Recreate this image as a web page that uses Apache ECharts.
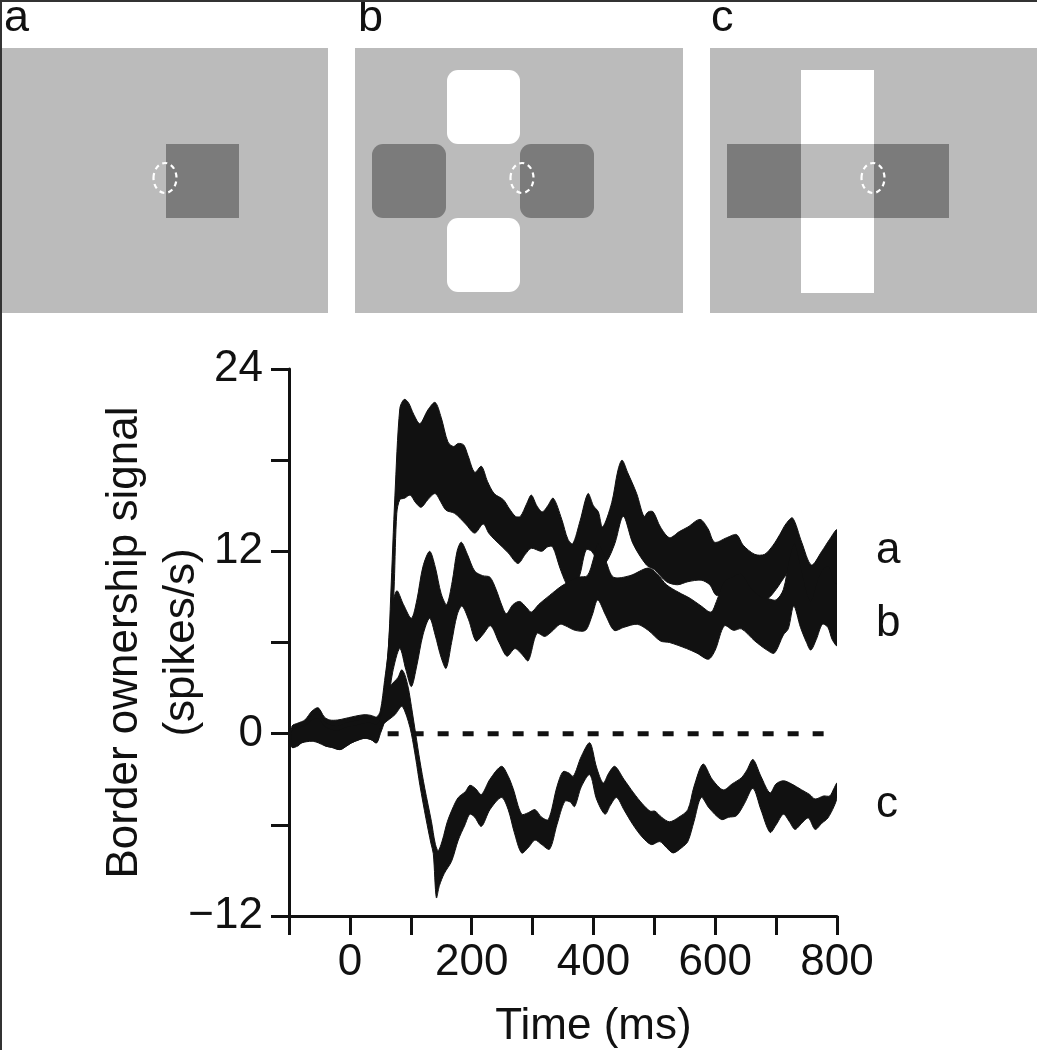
<!DOCTYPE html>
<html>
<head>
<meta charset="utf-8">
<script src="https://cdn.jsdelivr.net/npm/echarts@6/dist/echarts.min.js"></script>
<style>
html,body{margin:0;padding:0;background:#fff;}
#chart{width:1037px;height:1050px;}
</style>
</head>
<body>
<div id="chart"></div>
<script>
// ---- Data (time in ms, border ownership signal in spikes/s) ----
// Each band = upper and lower edge of the shaded mean ± SEM trace.
var aHi = [[-95,0.5],[-85,0.7],[-74,0.9],[-62,1.5],[-52,1.7],[-42,1.1],[-33,0.9],[-20,0.9],[-8,1.0],[3,1.1],[15,1.2],[25,1.25],[35,1.2],[44,1.1],[50,1.5],[57,3.5],[63,5.5],[67,9.0],[74,15.7],[82,21.4],[89,22.0],[96,21.8],[105,21.0],[115,20.4],[128,21.3],[140,21.8],[150,20.8],[161,19.2],[170,18.9],[178,19.1],[187,19.0],[194,18.3],[205,17.2],[216,17.6],[226,16.6],[237,15.8],[252,15.4],[262,14.8],[272,14.3],[280,14.3],[290,15.1],[298,15.7],[307,15.0],[316,14.6],[325,15.0],[334,15.5],[348,14.1],[358,12.8],[366,12.5],[378,14.0],[391,15.8],[400,15.0],[408,14.6],[415,13.6],[430,15.2],[440,17.3],[447,18.0],[456,17.2],[471,15.8],[483,14.3],[490,14.6],[498,14.6],[510,13.6],[525,12.9],[541,13.3],[555,13.6],[575,14.1],[588,13.5],[599,12.6],[619,12.9],[635,13.1],[646,12.4],[665,11.8],[681,11.8],[695,12.4],[706,13.1],[716,13.8],[727,14.2],[742,12.6],[758,11.1],[775,12.0],[788,12.8],[800,13.4]];
var aLo = [[-95,-0.4],[-85,-0.2],[-74,0.1],[-62,0.5],[-52,0.4],[-42,-0.2],[-30,-0.4],[-16,-0.6],[-5,-0.3],[3,-0.2],[15,0.1],[25,0.2],[35,0.0],[44,-0.2],[50,0.2],[57,1.0],[63,2.5],[68,5.0],[73,10.0],[77,14.5],[82,15.4],[90,15.5],[99,15.7],[108,15.2],[117,14.9],[128,15.4],[140,15.8],[150,15.2],[158,14.7],[172,14.5],[190,13.8],[205,13.2],[219,13.8],[228,13.2],[237,12.8],[250,12.3],[260,11.9],[276,11.2],[288,11.8],[298,12.2],[315,12.0],[325,12.3],[333,12.3],[345,10.9],[355,9.9],[366,9.2],[378,10.5],[388,12.1],[397,12.0],[410,11.2],[421,11.3],[435,12.5],[449,14.3],[465,12.5],[487,11.1],[500,10.8],[520,10.0],[538,9.8],[555,10.0],[577,10.1],[591,9.8],[602,9.1],[620,9.3],[640,9.5],[660,8.8],[686,8.9],[700,9.5],[712,10.2],[725,10.8],[742,9.5],[758,8.2],[775,8.8],[790,9.5],[800,9.8]];
var bHi = [[-95,0.3],[-85,0.5],[-74,0.6],[-62,1.2],[-52,1.3],[-42,0.8],[-33,0.6],[-20,0.5],[-8,0.7],[3,0.8],[15,0.9],[25,1.0],[35,1.0],[44,0.9],[50,1.3],[56,2.5],[62,5.0],[68,8.0],[77,9.4],[88,8.5],[101,7.6],[110,8.8],[120,11.0],[131,12.0],[140,11.0],[150,9.2],[159,8.5],[168,10.0],[176,12.0],[183,12.6],[193,11.8],[205,10.7],[218,10.4],[230,10.3],[240,9.5],[250,8.4],[257,7.9],[268,8.5],[279,8.7],[290,8.3],[298,8.0],[310,8.5],[328,9.1],[347,9.7],[360,10.0],[375,10.3],[390,10.4],[400,11.5],[407,12.5],[415,12.0],[421,11.3],[433,10.3],[460,10.4],[490,10.9],[505,10.5],[520,9.8],[540,9.3],[559,8.9],[577,8.4],[593,8.0],[602,8.7],[615,10.0],[628,10.3],[643,10.5],[660,9.5],[675,9.0],[686,8.9],[700,8.8],[712,9.5],[722,11.5],[730,12.5],[740,11.0],[750,9.3],[757,8.7],[768,10.0],[777,10.8],[786,11.0],[795,10.0],[800,9.8]];
var bLo = [[-95,-0.9],[-85,-0.7],[-79,-0.6],[-62,-0.3],[-52,-0.4],[-41,-0.8],[-30,-0.9],[-16,-1.05],[-5,-0.8],[3,-0.6],[15,-0.4],[25,-0.3],[35,-0.4],[44,-0.6],[50,0.0],[57,0.8],[63,2.0],[70,4.0],[82,5.6],[92,4.2],[101,3.1],[110,4.5],[120,6.5],[131,7.6],[140,6.5],[150,5.0],[158,4.3],[167,6.0],[176,7.8],[184,8.4],[195,7.5],[207,6.1],[218,6.5],[231,7.1],[245,6.0],[258,5.1],[271,5.6],[283,5.2],[293,4.8],[307,6.6],[320,6.4],[331,6.7],[345,7.2],[354,7.1],[370,6.8],[387,6.8],[398,7.8],[407,8.8],[420,7.8],[434,6.8],[450,7.0],[472,7.2],[490,6.8],[510,6.1],[525,6.0],[553,5.6],[570,5.3],[589,4.9],[600,5.5],[615,7.1],[630,6.8],[643,6.9],[665,6.1],[685,5.5],[697,5.3],[712,6.5],[720,6.9],[729,8.4],[740,7.0],[750,6.0],[757,5.5],[766,6.2],[776,7.2],[785,7.0],[792,6.2],[800,5.8]];
var cHi = [[-95,0.2],[-85,0.4],[-74,0.5],[-62,0.9],[-52,1.0],[-42,0.5],[-33,0.3],[-20,0.2],[-8,0.4],[3,0.5],[15,0.6],[25,0.7],[35,0.7],[44,0.6],[50,1.0],[57,2.3],[68,3.2],[79,3.7],[85,4.2],[90,3.9],[96,3.0],[101,1.8],[108,0.0],[115,-1.8],[123,-3.6],[134,-5.8],[140,-7.2],[145,-7.7],[152,-7.0],[160,-5.8],[170,-4.8],[178,-4.2],[190,-3.8],[197,-3.4],[206,-3.6],[216,-4.0],[230,-3.0],[249,-2.15],[260,-2.8],[268,-3.6],[282,-5.3],[293,-5.2],[304,-5.0],[315,-5.5],[326,-5.65],[340,-3.5],[350,-2.5],[360,-2.6],[367,-2.8],[380,-1.5],[394,-0.6],[405,-2.2],[416,-3.25],[425,-2.6],[435,-2.15],[450,-3.0],[466,-3.9],[480,-4.6],[493,-5.1],[501,-5.1],[512,-5.5],[525,-5.8],[540,-5.5],[555,-5.0],[565,-3.5],[580,-2.0],[595,-3.0],[613,-3.7],[628,-3.3],[643,-2.9],[652,-2.4],[662,-1.7],[675,-2.8],[690,-3.9],[700,-3.3],[712,-3.1],[725,-3.3],[742,-3.7],[755,-4.0],[764,-4.3],[778,-4.1],[788,-4.1],[795,-3.6],[800,-3.25]];
var cLo = [[-95,-0.9],[-85,-0.8],[-79,-0.6],[-62,-0.5],[-52,-0.6],[-41,-0.8],[-30,-0.9],[-16,-1.05],[-5,-0.8],[3,-0.6],[15,-0.4],[25,-0.3],[35,-0.4],[44,-0.6],[49,0.3],[57,0.7],[74,1.25],[85,1.8],[90,1.5],[96,0.8],[101,0.0],[108,-1.6],[115,-3.4],[125,-5.6],[133,-7.2],[137,-7.9],[142,-10.8],[147,-10.0],[155,-9.2],[167,-8.4],[178,-7.0],[189,-6.0],[197,-5.3],[205,-5.5],[216,-6.1],[230,-5.0],[249,-4.2],[260,-5.0],[270,-6.5],[282,-7.85],[293,-7.5],[304,-7.0],[315,-7.3],[328,-7.6],[340,-6.0],[353,-4.45],[362,-4.5],[369,-4.8],[380,-3.5],[394,-2.7],[405,-4.3],[419,-5.3],[428,-4.7],[438,-4.2],[450,-5.0],[465,-6.0],[480,-6.8],[495,-7.3],[509,-7.1],[520,-7.5],[531,-7.85],[545,-7.5],[555,-7.1],[565,-5.8],[577,-4.2],[590,-4.9],[610,-5.65],[622,-5.5],[635,-5.4],[648,-4.6],[662,-3.6],[675,-5.0],[690,-6.5],[700,-6.0],[712,-5.3],[722,-5.8],[731,-6.3],[742,-5.9],[753,-5.55],[764,-6.3],[775,-5.9],[785,-5.55],[795,-4.8],[800,-4.2]];

var bandNames = ['a', 'b', 'c'];
var bandLabelValues = [12.0, 7.2, -4.7];   // where the a/b/c tags sit at the right end
var zeroLine = [[62, 0], [800, 0]];
var xTickLabels = [0, 200, 400, 600, 800];
var yTickLabels = [-12, 0, 12, 24];

// ---- Chart ----
var FONT = "'Liberation Sans', Arial, Helvetica, sans-serif";
var INK = '#111';
var chart = echarts.init(document.getElementById('chart'), null, {renderer: 'canvas'});

function bandSeries(name, hi, lo) {
  return {
    name: name,
    type: 'custom',
    coordinateSystem: 'cartesian2d',
    clip: true,
    data: hi,
    encode: {x: 0, y: 1},
    z: 5,
    renderItem: function (params, api) {
      if (params.dataIndex !== 0) return null;
      var top = [], bot = [];
      for (var i = 0; i < hi.length; i++) top.push(api.coord(hi[i]));
      for (var j = lo.length - 1; j >= 0; j--) bot.push(api.coord(lo[j]));
      return {
        type: 'group',
        children: [
          {type: 'polygon', shape: {points: top.concat(bot), smooth: 0.3}, style: {fill: INK, stroke: INK, lineWidth: 1}}
        ]
      };
    }
  };
}

var labelData = bandNames.map(function (n, i) { return {value: [800, bandLabelValues[i]], name: n}; });

// Stimulus panels (schematic, pixel layout)
var LG = '#bbbbbb', DG = '#7b7b7b', WH = '#ffffff';
function rect(x, y, w, h, fill, r) {
  return {type: 'rect', silent: true, z: 1, shape: {x: x, y: y, width: w, height: h, r: r || 0}, style: {fill: fill}};
}
function ring(cx, cy) {
  return {type: 'ellipse', silent: true, z: 3, shape: {cx: cx, cy: cy, rx: 11.5, ry: 15}, style: {fill: 'none', stroke: WH, lineWidth: 2.2, lineDash: [5, 4]}};
}
function letter(x, t) {
  return {type: 'text', silent: true, z: 3, x: x, y: -4, style: {text: t, font: '45px ' + FONT, fill: INK, verticalAlign: 'top', align: 'left'}};
}

var graphics = [
  // frame lines
  {type: 'rect', silent: true, z: 10, shape: {x: 0, y: 0, width: 1037, height: 2}, style: {fill: '#333'}},
  {type: 'rect', silent: true, z: 10, shape: {x: 0, y: 0, width: 2, height: 1050}, style: {fill: '#333'}},
  // panel a
  rect(0, 48, 328, 265, LG),
  rect(166, 144, 73, 74, DG),
  ring(165, 178),
  // panel b
  rect(355, 48, 328, 265, LG),
  rect(447, 70, 73, 74, WH, 11),
  rect(447, 218, 73, 74, WH, 11),
  rect(372, 144, 74, 74, DG, 11),
  rect(520, 144, 74, 74, DG, 11),
  ring(522, 178),
  // panel c
  rect(710, 48, 327, 265, LG),
  rect(801, 70, 73, 223, WH),
  rect(727, 144, 222, 74, DG),
  rect(801, 144, 73, 74, LG),
  ring(873, 178),
  letter(4, 'a'),
  letter(358, 'b'),
  letter(711, 'c')
];

var option = {
  backgroundColor: '#ffffff',
  animation: false,
  textStyle: {fontFamily: FONT},
  graphic: graphics,
  grid: {left: 289, right: 200, top: 369, bottom: 134, containLabel: false, outerBoundsMode: 'none'},
  xAxis: {
    type: 'value', min: -100, max: 800, interval: 100,
    name: 'Time (ms)', nameLocation: 'middle', nameGap: 89, nameMoveOverlap: false,
    nameTextStyle: {fontSize: 44, color: INK, fontFamily: FONT, padding: [0, 0, 0, 61]},
    axisLine: {show: true, onZero: false, lineStyle: {color: INK, width: 3}},
    axisTick: {show: true, inside: false, length: 19, lineStyle: {color: INK, width: 3}},
    axisLabel: {
      fontSize: 44, color: INK, fontFamily: FONT, margin: 25, hideOverlap: false,
      formatter: function (v) { return xTickLabels.indexOf(v) >= 0 ? String(v) : ''; }
    },
    splitLine: {show: false}
  },
  yAxis: {
    type: 'value', min: -12, max: 24, interval: 6,
    name: 'Border ownership signal\n(spikes/s)', nameLocation: 'middle', nameGap: 79, nameMoveOverlap: false,
    nameTextStyle: {fontSize: 44, lineHeight: 57, color: INK, fontFamily: FONT},
    axisLine: {show: true, onZero: false, lineStyle: {color: INK, width: 3}},
    axisTick: {show: true, inside: false, length: 18, lineStyle: {color: INK, width: 3}},
    axisLabel: {
      fontSize: 44, color: INK, fontFamily: FONT, margin: 26, hideOverlap: false,
      formatter: function (v) {
        if (yTickLabels.indexOf(v) < 0) return '';
        return v < 0 ? '\u2212' + Math.abs(v) : String(v);
      }
    },
    splitLine: {show: false}
  },
  series: [
    {
      name: 'zero', type: 'line', data: zeroLine, symbol: 'none', z: 2,
      lineStyle: {color: INK, width: 5, type: [11, 14]}, silent: true
    },
    bandSeries('a', aHi, aLo),
    bandSeries('b', bHi, bLo),
    bandSeries('c', cHi, cLo),
    {
      name: 'tags', type: 'scatter', data: labelData, symbolSize: 0, z: 6, silent: true,
      itemStyle: {opacity: 1, color: INK},
      label: {show: true, position: 'right', distance: 39, formatter: '{b}', fontSize: 44, color: INK, opacity: 1, fontFamily: FONT}
    }
  ]
};
chart.setOption(option);
</script>
</body>
</html>
